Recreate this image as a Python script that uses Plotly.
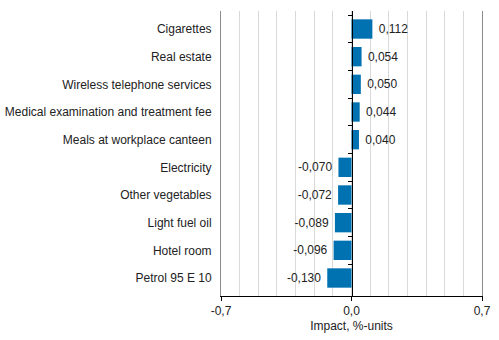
import plotly.graph_objects as go

categories = ["Cigarettes", "Real estate", "Wireless telephone services",
              "Medical examination and treatment fee", "Meals at workplace canteen",
              "Electricity", "Other vegetables", "Light fuel oil", "Hotel room", "Petrol 95 E 10"]
values = [0.112, 0.054, 0.050, 0.044, 0.040, -0.070, -0.072, -0.089, -0.096, -0.130]
x_tickvals = [-0.7, 0.0, 0.7]
x_ticktext = ["-0,7", "0,0", "0,7"]
x_title = "Impact, %-units"

labels = [(" " + f"{v:.3f}".replace(".", ",")) if v >= 0 else (f"{v:.3f}".replace(".", ",") + " ")
          for v in values]

font = dict(family="Liberation Sans, Arial, sans-serif", size=12, color="#222")

fig = go.Figure()
fig.add_trace(go.Bar(
    y=categories, x=values, orientation="h",
    marker=dict(color="#0072b2", line=dict(width=0)),
    width=0.7, text=labels, textposition="outside", cliponaxis=False,
    textfont=font, hoverinfo="skip", showlegend=False,
))
fig.add_trace(go.Scatter(
    y=categories, x=[0] * len(categories), yaxis="y2", mode="markers",
    marker=dict(opacity=0), hoverinfo="skip", showlegend=False,
))

fig.update_layout(
    width=499, height=340,
    margin=dict(l=221, r=17, t=11, b=44),
    plot_bgcolor="white", paper_bgcolor="white",
    font=font,
    xaxis=dict(
        range=[-0.7, 0.7], tickvals=x_tickvals, ticktext=x_ticktext,
        showgrid=False, zeroline=False, automargin=False,
        minor=dict(dtick=0.1, tick0=0, showgrid=True, gridcolor="#d9d9d9", gridwidth=1, ticks=""),
        showline=True, linecolor="#000", linewidth=1,
        ticks="outside", ticklen=4, tickcolor="#000",
        title=dict(text=x_title, font=font, standoff=4),
    ),
    yaxis=dict(
        type="category", categoryorder="array", categoryarray=categories,
        autorange="reversed", showgrid=False, zeroline=False, automargin=False,
        showline=True, linecolor="#8c8c8c", linewidth=1, mirror=True,
        ticks="outside", ticklen=6, tickcolor="rgba(0,0,0,0)",
    ),
    yaxis2=dict(
        type="category", matches="y", overlaying="y", anchor="free", position=0.5,
        side="left", showticklabels=False, showgrid=False, zeroline=False, automargin=False,
        showline=True, linecolor="#000", linewidth=1,
        ticks="outside", ticklen=4, tickcolor="#000", tickson="boundaries",
    ),
    bargap=0.3,
)

fig.write_html("out.html")
